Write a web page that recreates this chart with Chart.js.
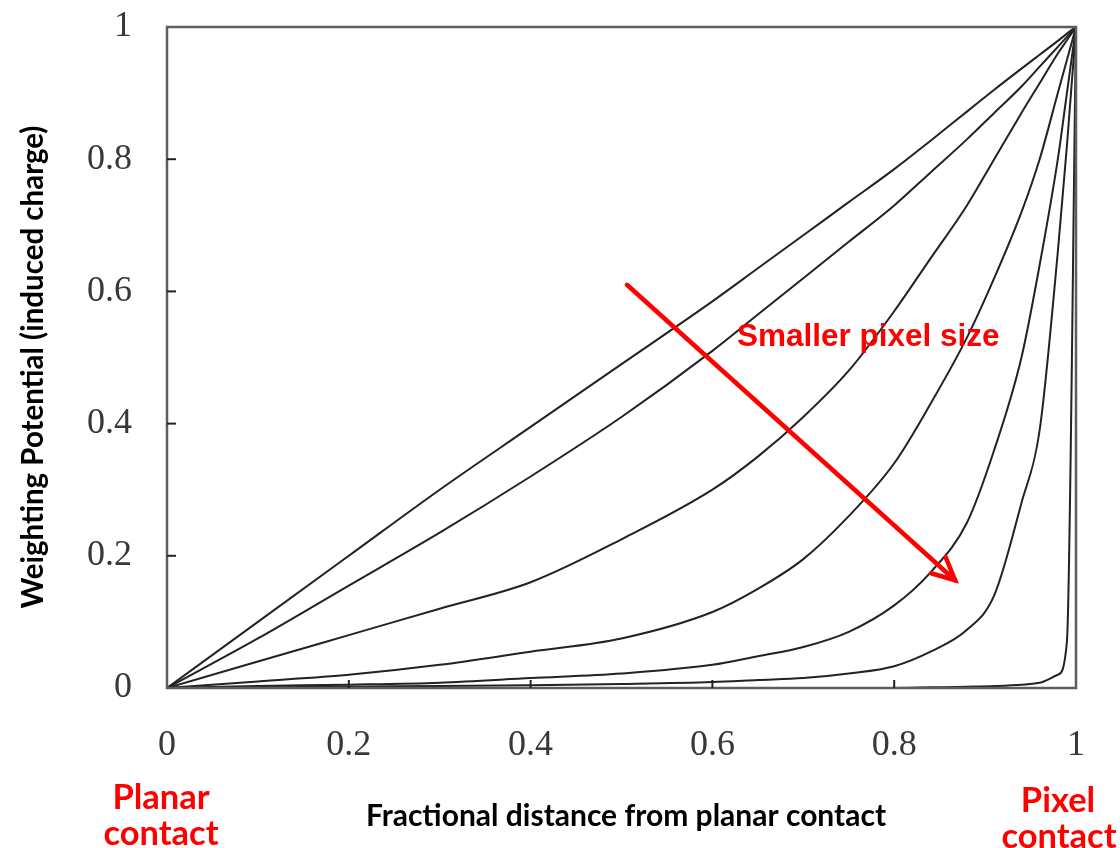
<!DOCTYPE html>
<html>
<head>
<meta charset="utf-8">
<script src="https://cdn.jsdelivr.net/npm/chart.js@4.4.1/dist/chart.umd.min.js"></script>
<style>
  html, body { margin: 0; padding: 0; background: #ffffff; }
  #wrap { position: relative; width: 1120px; height: 848px; }
</style>
</head>
<body>
<div id="wrap"><canvas id="chart" width="1120" height="848"></canvas></div>
<script>
// Fractional distance from the planar contact (shared by every curve)
const distance = [0, 0.1, 0.2, 0.3, 0.4, 0.5, 0.6, 0.65, 0.7, 0.75, 0.8, 0.84, 0.88, 0.91, 0.94, 0.96, 0.98, 0.99, 1];

// Weighting potential curves, from the largest pixel to the smallest
const potentialLargest = [0, 0.1, 0.2, 0.3, 0.395, 0.49, 0.585, 0.635, 0.685, 0.735, 0.785, 0.828, 0.872, 0.905, 0.937, 0.958, 0.979, 0.99, 1];
const potentialLarge   = [0, 0.075, 0.155, 0.235, 0.32, 0.41, 0.51, 0.565, 0.62, 0.675, 0.73, 0.78, 0.83, 0.87, 0.91, 0.94, 0.97, 0.985, 1];
const potentialMedLarge = [0, 0.04, 0.08, 0.12, 0.16, 0.225, 0.3, 0.35, 0.41, 0.48, 0.57, 0.65, 0.73, 0.8, 0.87, 0.915, 0.96, 0.98, 1];
const potentialMedium  = [0, 0.01, 0.02, 0.035, 0.055, 0.075, 0.115, 0.15, 0.195, 0.26, 0.34, 0.43, 0.53, 0.62, 0.72, 0.8, 0.9, 0.95, 1];
const potentialMedSmall = [0, 0.003, 0.005, 0.008, 0.015, 0.022, 0.035, 0.048, 0.062, 0.085, 0.125, 0.175, 0.25, 0.36, 0.5, 0.64, 0.8, 0.9, 1];
const potentialSmall   = [0, 0.001, 0.002, 0.003, 0.004, 0.006, 0.009, 0.012, 0.015, 0.022, 0.033, 0.055, 0.088, 0.14, 0.28, 0.39, 0.66, 0.82, 1];
const potentialSmallest = [0, 0, 0, 0, 0, 0, 0, 0, 0, 0, 0, 0.001, 0.002, 0.003, 0.005, 0.008, 0.02, 0.07, 1];

const curves = [potentialLargest, potentialLarge, potentialMedLarge, potentialMedium,
                potentialMedSmall, potentialSmall, potentialSmallest];

// Axis ticks
const tickValues = [0, 0.2, 0.4, 0.6, 0.8, 1];
const tickLabels = ['0', '0.2', '0.4', '0.6', '0.8', '1'];

// Text
const xTitle = 'Fractional distance from planar contact';
const yTitle = 'Weighting Potential (induced charge)';
const trendText = 'Smaller pixel size';
const leftEndLabel = ['Planar', 'contact'];
const rightEndLabel = ['Pixel', 'contact'];

// Trend arrow endpoints in data units (distance, potential)
const arrowFrom = [0.506, 0.61];
const arrowTo = [0.867, 0.163];

const datasets = curves.map((vals, i) => ({
  label: 'curve ' + (i + 1),
  data: distance.map((d, k) => ({ x: d, y: vals[k] })),
  borderColor: '#222222',
  borderWidth: 2,
  pointRadius: 0,
  fill: false,
  cubicInterpolationMode: 'monotone'
}));

const tickFont = { family: '"Liberation Serif", serif', size: 36 };

const decor = {
  id: 'decor',
  afterDraw(chart) {
    const { ctx, chartArea: a, scales } = chart;
    const xs = scales.x, ys = scales.y;
    ctx.save();

    // plot frame
    ctx.strokeStyle = '#5e5e5e';
    ctx.lineWidth = 2.5;
    ctx.strokeRect(a.left, a.top, a.right - a.left, a.bottom - a.top);

    // inward tick marks
    ctx.strokeStyle = '#222';
    ctx.lineWidth = 2;
    tickValues.slice(1, -1).forEach(v => {
      const px = xs.getPixelForValue(v);
      ctx.beginPath(); ctx.moveTo(px, a.bottom); ctx.lineTo(px, a.bottom - 8); ctx.stroke();
      const py = ys.getPixelForValue(v);
      ctx.beginPath(); ctx.moveTo(a.left, py); ctx.lineTo(a.left + 9, py); ctx.stroke();
    });

    // axis titles
    ctx.fillStyle = '#000';
    ctx.textAlign = 'center';
    ctx.textBaseline = 'middle';
    ctx.font = 'bold 30px Lato, "Open Sans", sans-serif';
    ctx.fillText(xTitle, 626, 816);
    ctx.save();
    ctx.translate(33, 367);
    ctx.rotate(-Math.PI / 2);
    ctx.font = 'bold 29.5px Lato, "Open Sans", sans-serif';
    ctx.fillText(yTitle, 0, 0);
    ctx.restore();

    // contact labels
    ctx.fillStyle = '#ff0000';
    ctx.font = 'bold 34.5px Lato, "Open Sans", sans-serif';
    ctx.fillText(leftEndLabel[0], 161, 798);
    ctx.fillText(leftEndLabel[1], 161, 834);
    ctx.fillText(rightEndLabel[0], 1058, 801);
    ctx.fillText(rightEndLabel[1], 1059, 837);

    // trend arrow
    const x0 = xs.getPixelForValue(arrowFrom[0]), y0 = ys.getPixelForValue(arrowFrom[1]);
    const x1 = xs.getPixelForValue(arrowTo[0]), y1 = ys.getPixelForValue(arrowTo[1]);
    ctx.strokeStyle = '#ff0000';
    ctx.lineWidth = 4.5;
    ctx.lineCap = 'round';
    ctx.beginPath(); ctx.moveTo(x0, y0); ctx.lineTo(x1, y1); ctx.stroke();
    const ang = Math.atan2(y1 - y0, x1 - x0);
    const head = 25, spread = Math.PI / 7;
    ctx.beginPath();
    ctx.moveTo(x1 - head * Math.cos(ang - spread), y1 - head * Math.sin(ang - spread));
    ctx.lineTo(x1, y1);
    ctx.lineTo(x1 - head * Math.cos(ang + spread), y1 - head * Math.sin(ang + spread));
    ctx.stroke();

    // trend label
    ctx.fillStyle = '#ff0000';
    ctx.font = 'bold 31.5px "Liberation Sans", Arial, sans-serif';
    ctx.textAlign = 'left';
    ctx.fillText(trendText, 737, 337);

    ctx.restore();
  }
};

new Chart(document.getElementById('chart'), {
  type: 'line',
  data: { datasets },
  options: {
    responsive: false,
    animation: false,
    events: [],
    layout: { padding: { top: 27, right: 44, left: 0, bottom: 0 } },
    plugins: { legend: { display: false }, tooltip: { enabled: false } },
    scales: {
      x: {
        type: 'linear', min: 0, max: 1,
        afterFit: s => { s.height = 160; s.paddingLeft = 0; s.paddingRight = 0; },
        afterBuildTicks: s => { s.ticks = tickValues.map(v => ({ value: v })); },
        grid: { display: false, drawTicks: false },
        border: { display: false },
        ticks: {
          padding: 36, color: '#383838', font: tickFont, maxRotation: 0,
          callback: v => tickLabels[tickValues.indexOf(v)] ?? ''
        }
      },
      y: {
        type: 'linear', min: 0, max: 1,
        afterFit: s => { s.width = 167; s.paddingTop = 0; s.paddingBottom = 0; },
        afterBuildTicks: s => { s.ticks = tickValues.map(v => ({ value: v })); },
        grid: { display: false, drawTicks: false },
        border: { display: false },
        ticks: {
          padding: 35, color: '#383838', font: tickFont,
          callback: v => tickLabels[tickValues.indexOf(v)] ?? ''
        }
      }
    }
  },
  plugins: [decor]
});
</script>
</body>
</html>
